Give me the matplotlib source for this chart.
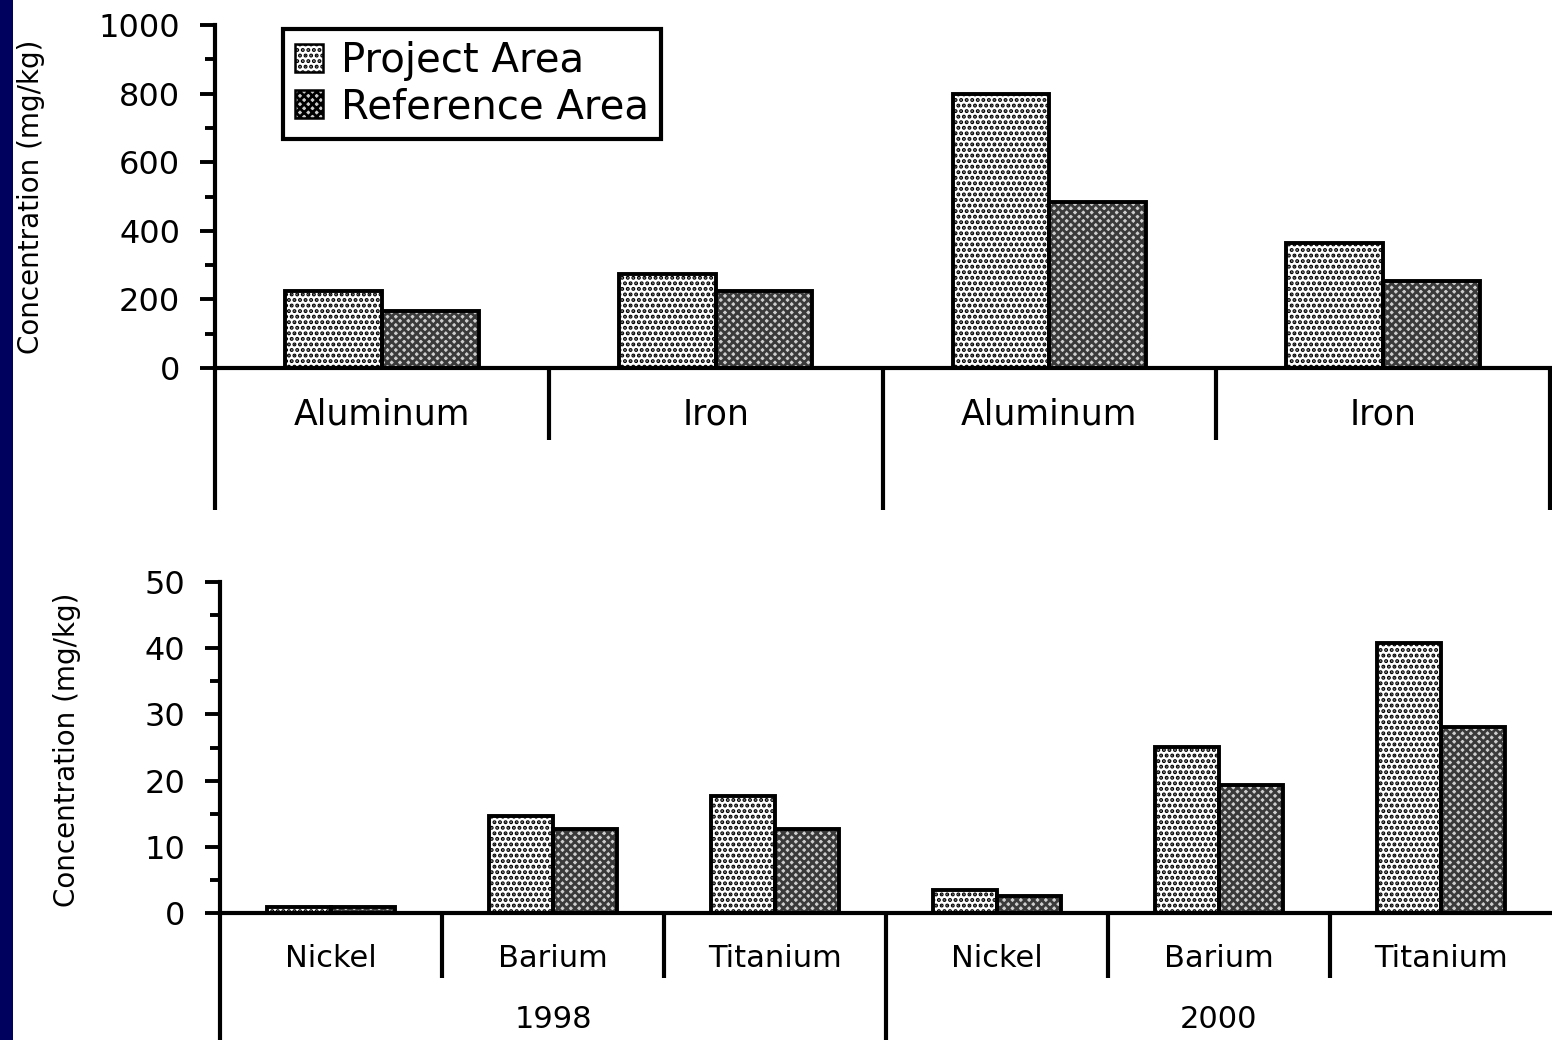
import numpy as np
import matplotlib
matplotlib.use("Agg")
import matplotlib.pyplot as plt
from matplotlib.patches import Rectangle, Patch

# datos
top_cats = ["Aluminum", "Iron", "Aluminum", "Iron"]
top_project = [225, 275, 800, 365]
top_reference = [165, 225, 485, 255]

bot_cats = ["Nickel", "Barium", "Titanium", "Nickel", "Barium", "Titanium"]
bot_project = [0.9, 14.7, 17.7, 3.5, 25.1, 40.8]
bot_reference = [0.9, 12.7, 12.7, 2.6, 19.3, 28.1]

years = ["1998", "2000"]
ylabel = "Concentration (mg/kg)"

plt.rcParams['font.family'] = ['DejaVu Sans']
plt.rcParams['hatch.linewidth'] = 2.0

fig = plt.figure(figsize=(15.52, 10.4), dpi=100)
fig.patch.set_facecolor('white')

# franja azul de la diapositiva
fig.patches.append(Rectangle((0, 0), 13 / 1552, 1, transform=fig.transFigure,
                             facecolor='#00005e', edgecolor='none', zorder=0))

LW = 3.0
BW = 0.29
GRIS = '#cdcdcd'


def dibujar_barras(ax, proj, ref):
    x = np.arange(len(proj))
    ax.bar(x - BW / 2, proj, BW, facecolor='white', edgecolor='black',
           hatch='...', linewidth=0, zorder=2)
    ax.bar(x - BW / 2, proj, BW, fill=False, edgecolor='black', linewidth=2.8, zorder=3)
    ax.bar(x + BW / 2, ref, BW, facecolor=GRIS, edgecolor='#3a3a3a',
           hatch='xxxx', linewidth=0, zorder=2)
    ax.bar(x + BW / 2, ref, BW, fill=False, edgecolor='black', linewidth=2.8, zorder=3)


def estilo_ejes(ax):
    for s in ['top', 'right']:
        ax.spines[s].set_visible(False)
    ax.spines['left'].set_linewidth(LW)
    ax.spines['bottom'].set_linewidth(LW)
    ax.tick_params(axis='y', which='major', length=11, width=2.8, pad=14, labelsize=23)
    ax.tick_params(axis='y', which='minor', length=7, width=2.8)
    ax.set_xticks([])


def linea_vertical(ax, x, y_end):
    ax.plot([x, x], [0, y_end], color='black', linewidth=LW,
            transform=ax.get_xaxis_transform(), clip_on=False, solid_capstyle='butt')


# ---------- grafico superior ----------
ax1 = fig.add_axes([215 / 1552, 1 - 368 / 1040, (1550 - 215) / 1552, 343 / 1040])
dibujar_barras(ax1, top_project, top_reference)
estilo_ejes(ax1)
ax1.set_xlim(-0.5, len(top_cats) - 0.5)
ax1.set_ylim(0, 1000)
ax1.set_yticks(np.arange(0, 1001, 200))
ax1.set_yticks(np.arange(100, 1000, 200), minor=True)

for i, c in enumerate(top_cats):
    ax1.text(i, -0.137, c, transform=ax1.get_xaxis_transform(), ha='center',
             va='center', fontsize=25)

linea_vertical(ax1, -0.5, -0.414)
linea_vertical(ax1, 0.5, -0.21)
linea_vertical(ax1, 1.5, -0.414)
linea_vertical(ax1, 2.5, -0.21)
linea_vertical(ax1, 3.5, -0.414)

fig.text(31 / 1552, 1 - 197 / 1040, ylabel, rotation=90, ha='center',
         va='center', fontsize=20)

handles = [Patch(facecolor='white', edgecolor='black', hatch='...', linewidth=1.8),
           Patch(facecolor=GRIS, edgecolor='black', hatch='xxxx', linewidth=1.8)]
leg = fig.legend(handles, ["Project Area", "Reference Area"], loc='upper left',
                 bbox_to_anchor=(283 / 1552, 1 - 29 / 1040), fontsize=29,
                 frameon=True, fancybox=False, framealpha=1,
                 handlelength=0.7, handleheight=0.7,
                 handletextpad=0.45, borderpad=0.3, labelspacing=0.15,
                 borderaxespad=0)
leg.get_frame().set_edgecolor('black')
leg.get_frame().set_linewidth(LW)

# ---------- grafico inferior ----------
ax2 = fig.add_axes([220 / 1552, 1 - 913 / 1040, (1552 - 220) / 1552, 331 / 1040])
dibujar_barras(ax2, bot_project, bot_reference)
estilo_ejes(ax2)
ax2.set_xlim(-0.5, 5.5)
ax2.set_ylim(0, 50)
ax2.set_yticks(np.arange(0, 51, 10))
ax2.set_yticks(np.arange(5, 50, 10), minor=True)

for i, c in enumerate(bot_cats):
    ax2.text(i, -0.136, c, transform=ax2.get_xaxis_transform(), ha='center',
             va='center', fontsize=22)
for j, yr in enumerate(years):
    ax2.text(1 + 3 * j, -0.323, yr, transform=ax2.get_xaxis_transform(),
             ha='center', va='center', fontsize=22)

linea_vertical(ax2, -0.5, -0.4)
linea_vertical(ax2, 0.5, -0.196)
linea_vertical(ax2, 1.5, -0.196)
linea_vertical(ax2, 2.5, -0.4)
linea_vertical(ax2, 3.5, -0.196)
linea_vertical(ax2, 4.5, -0.196)

fig.text(67 / 1552, 1 - 750 / 1040, ylabel, rotation=90, ha='center',
         va='center', fontsize=20)

fig.savefig("out.png", dpi=100)
